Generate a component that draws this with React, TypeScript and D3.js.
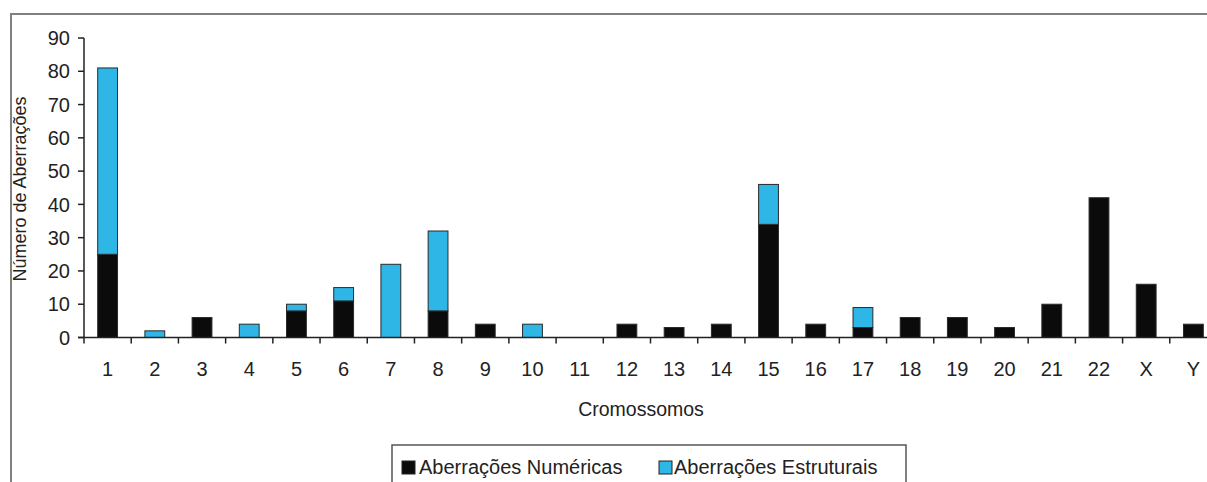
import React from "react";
import * as d3 from "d3";

const categories = ["1","2","3","4","5","6","7","8","9","10","11","12","13","14","15","16","17","18","19","20","21","22","X","Y"];
const numericas = [25,0,6,0,8,11,0,8,4,0,0,4,3,4,34,4,3,6,6,3,10,42,16,4];
const estruturais = [56,2,0,4,2,4,22,24,0,4,0,0,0,0,12,0,6,0,0,0,0,0,0,0];
const yTicks = [0,10,20,30,40,50,60,70,80,90];
const seriesNames = ["Aberrações Numéricas", "Aberrações Estruturais"];
const seriesColors = ["#0b0b0b", "#2db6e6"];

const W = 1207, H = 482;
const FONT = "'Liberation Sans', Arial, sans-serif";

export default function App() {
  const x = d3.scaleBand<string>().domain(categories).range([84, 1217]).padding(0);
  const y = d3.scaleLinear().domain([0, 90]).range([337.5, 38]);
  const bw = x.bandwidth() * 0.42;
  const stack = categories.map((c, i) => ({ c, n: numericas[i], e: estruturais[i] }));
  return (
    <svg width={W} height={H} style={{ position: "fixed", left: 0, top: 0, background: "#fff" }} fontFamily={FONT}>
      <rect x={0} y={0} width={W} height={H} fill="#fff" />
      <rect x={11} y={14} width={1400} height={800} fill="none" stroke="#808080" strokeWidth={2} />
      {stack.map((d) => {
        const cx = (x(d.c) as number) + x.bandwidth() / 2;
        return (
          <g key={d.c}>
            {d.n > 0 && (
              <rect x={cx - bw / 2} y={y(d.n)} width={bw} height={y(0) - y(d.n)} fill={seriesColors[0]} stroke="#2a2a2a" strokeWidth={1} />
            )}
            {d.e > 0 && (
              <rect x={cx - bw / 2} y={y(d.n + d.e)} width={bw} height={y(d.n) - y(d.n + d.e)} fill={seriesColors[1]} stroke="#2a2a2a" strokeWidth={1} />
            )}
          </g>
        );
      })}
      <line x1={84} x2={84} y1={y(90)} y2={y(0)} stroke="#222" strokeWidth={1.5} />
      {yTicks.map((t) => (
        <g key={t}>
          <line x1={78} x2={84} y1={y(t)} y2={y(t)} stroke="#222" strokeWidth={1.5} />
          <text x={70} y={y(t)} dy="0.36em" textAnchor="end" fontSize={20} fill="#222">{t}</text>
        </g>
      ))}
      <line x1={78} x2={1217} y1={y(0)} y2={y(0)} stroke="#222" strokeWidth={1.5} />
      {categories.map((c) => (
        <g key={c}>
          <line x1={x(c) as number} x2={x(c) as number} y1={y(0)} y2={y(0) + 6} stroke="#222" strokeWidth={1.5} />
          <text x={(x(c) as number) + x.bandwidth() / 2} y={376} textAnchor="middle" fontSize={20} fill="#222">{c}</text>
        </g>
      ))}
      <text x={641} y={416} textAnchor="middle" fontSize={19.5} fill="#222">Cromossomos</text>
      <text transform="translate(26,189) rotate(-90)" textAnchor="middle" fontSize={18} fill="#222">Número de Aberrações</text>
      <rect x={392} y={445} width={514} height={60} fill="#fff" stroke="#555" strokeWidth={1.5} />
      <rect x={402} y={461} width={13} height={13} fill={seriesColors[0]} stroke="#222" />
      <text x={419} y={474} fontSize={20} fill="#222">{seriesNames[0]}</text>
      <rect x={659} y={461} width={13} height={13} fill={seriesColors[1]} stroke="#222" />
      <text x={674} y={474} fontSize={20} fill="#222">{seriesNames[1]}</text>
    </svg>
  );
}
